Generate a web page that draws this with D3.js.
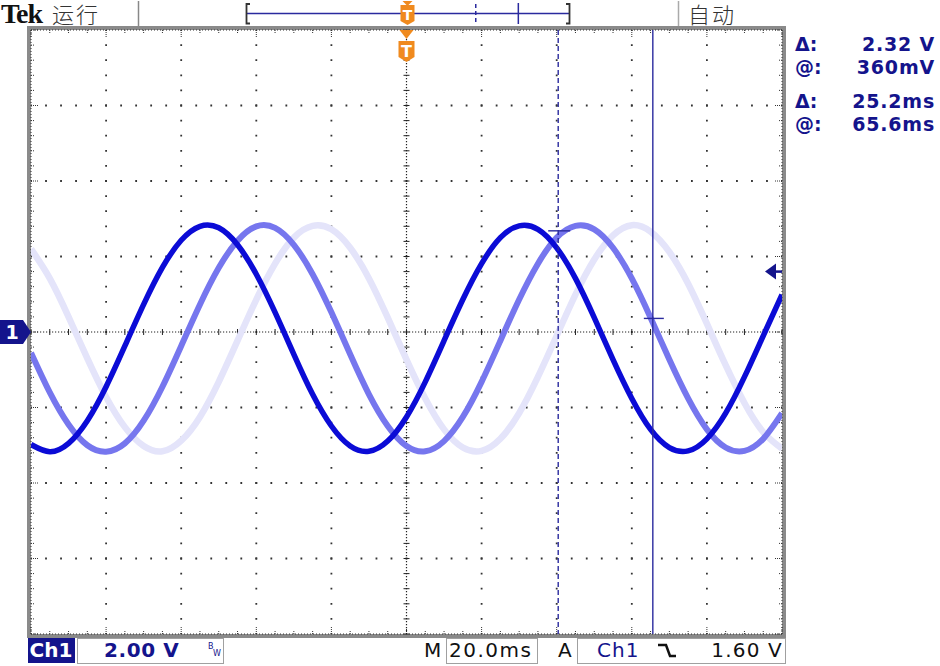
<!DOCTYPE html>
<html>
<head>
<meta charset="utf-8">
<script src="https://cdn.jsdelivr.net/npm/d3@7"></script>
<style>
  body { margin: 0; background: #fff; }
  svg { display: block; font-family: "DejaVu Sans", Verdana, sans-serif; }
</style>
</head>
<body>
<svg id="scope" width="940" height="666"></svg>
<script>
// -- sample times (ms) and traces (V) -- //
const sampleTimes = [-100, -95, -90, -85, -80, -75, -70, -65, -60, -55, -50, -45, -40, -35, -30, -25, -20, -15, -10, -5,
  0, 5, 10, 15, 20, 25, 30, 35, 40, 45, 50, 55, 60, 65, 70, 75, 80, 85, 90, 95, 100];

const ch1Volts = [-2.98, -3.17, -2.95, -2.35, -1.45, -0.37, 0.73, 1.71, 2.43, 2.80, 2.76, 2.31, 1.53, 0.52, -0.59, -1.65,
  -2.49, -3.02, -3.16, -2.89, -2.25, -1.32, -0.23, 0.86, 1.81, 2.50, 2.81, 2.72, 2.23, 1.42, 0.38, -0.73, -1.76, -2.58,
  -3.06, -3.15, -2.83, -2.15, -1.19, -0.10, 0.99];

const ref1Volts = [-0.55, -1.60, -2.45, -3.00, -3.17, -2.95, -2.35, -1.45, -0.37, 0.73, 1.70, 2.42, 2.80, 2.76, 2.31, 1.53,
  0.52, -0.59, -1.65, -2.49, -3.02, -3.16, -2.89, -2.25, -1.32, -0.23, 0.86, 1.81, 2.50, 2.81, 2.72, 2.23, 1.42, 0.38,
  -0.73, -1.76, -2.58, -3.06, -3.15, -2.83, -2.15];

const ref2Volts = [2.20, 1.42, 0.40, -0.70, -1.72, -2.52, -3.02, -3.16, -2.88, -2.25, -1.32, -0.23, 0.86, 1.81, 2.50, 2.81,
  2.72, 2.23, 1.42, 0.38, -0.73, -1.76, -2.58, -3.06, -3.15, -2.83, -2.15, -1.19, -0.10, 0.99, 1.92, 2.56, 2.83, 2.66,
  2.12, 1.28, 0.22, -0.88, -1.88, -2.65, -3.09];

// -- cursors / trigger -- //
const cursorTimes = [40.4, 65.6];   // ms
const cursorVolts = [2.68, 0.36];   // V
const triggerLevel = 1.60;          // V

// -- readouts -- //
const readoutLabels = ["Δ:", "@:", "Δ:", "@:"];
const readoutValues = ["2.32 V", "360mV", "25.2ms", "65.6ms"];

const svg = d3.select("#scope");
const plot = { left: 31, right: 782, top: 30, bottom: 634 };
const navy = "#14148c";

const x = d3.scaleLinear().domain([-100, 100]).range([plot.left, plot.right]);
const y = d3.scaleLinear().domain([-8, 8]).range([plot.bottom, plot.top]);

const majorT = x.ticks(10), minorT = x.ticks(50);
const majorV = y.ticks(8), minorV = d3.range(-8, 8.01, 0.4);
const stepX = x(4) - x(0), stepY = y(0) - y(0.4);

// -- frame -- //
svg.append("rect")
  .attr("x", plot.left - 2).attr("y", plot.top - 2)
  .attr("width", plot.right - plot.left + 4).attr("height", plot.bottom - plot.top + 4)
  .attr("fill", "none").attr("stroke", "#8a8a8a").attr("stroke-width", 4);

let ruler = svg.append("g").attr("stroke", "#333").attr("stroke-width", 1);
[[plot.left, plot.top, plot.right, plot.top], [plot.left, plot.bottom, plot.right, plot.bottom],
 [plot.left, plot.top, plot.left, plot.bottom], [plot.right, plot.top, plot.right, plot.bottom]]
  .forEach(s => ruler.append("line").attr("x1", s[0]).attr("y1", s[1]).attr("x2", s[2]).attr("y2", s[3])
    .attr("stroke-dasharray", "1 2"));

// -- border ticks -- //
minorT.forEach(t => {
  let len = majorT.includes(t) ? 8 : 4;
  ruler.append("line").attr("x1", x(t)).attr("x2", x(t)).attr("y1", plot.top).attr("y2", plot.top + len).attr("stroke-dasharray", "1 1");
  ruler.append("line").attr("x1", x(t)).attr("x2", x(t)).attr("y1", plot.bottom).attr("y2", plot.bottom - len).attr("stroke-dasharray", "1 1");
});
minorV.forEach(v => {
  let len = majorV.includes(Math.round(v * 10) / 10) ? 8 : 4;
  ruler.append("line").attr("y1", y(v)).attr("y2", y(v)).attr("x1", plot.left).attr("x2", plot.left + len).attr("stroke-dasharray", "1 1");
  ruler.append("line").attr("y1", y(v)).attr("y2", y(v)).attr("x1", plot.right).attr("x2", plot.right - len).attr("stroke-dasharray", "1 1");
});

// -- dotted graticule -- //
let grid = svg.append("g").attr("stroke", "#333").attr("stroke-width", 1.8);
majorT.filter(t => t > -100 && t < 100 && t !== 0).forEach(t => {
  grid.append("line").attr("x1", x(t)).attr("x2", x(t)).attr("y1", plot.top).attr("y2", plot.bottom)
    .attr("stroke-dasharray", `1.8 ${stepY - 1.8}`).attr("stroke-dashoffset", 0.9);
});
majorV.filter(v => v > -8 && v < 8 && v !== 0).forEach(v => {
  grid.append("line").attr("y1", y(v)).attr("y2", y(v)).attr("x1", plot.left).attr("x2", plot.right)
    .attr("stroke-dasharray", `1.8 ${stepX - 1.8}`).attr("stroke-dashoffset", 0.9);
});

// -- centre cross -- //
let cross = svg.append("g").attr("stroke", "#222").attr("stroke-width", 1.2);
cross.append("line").attr("x1", plot.left).attr("x2", plot.right).attr("y1", y(0)).attr("y2", y(0)).attr("stroke-dasharray", "1.2 1.8");
cross.append("line").attr("y1", plot.top).attr("y2", plot.bottom).attr("x1", x(0)).attr("x2", x(0)).attr("stroke-dasharray", "1.2 1.8");
minorT.forEach(t => cross.append("line").attr("x1", x(t)).attr("x2", x(t)).attr("y1", y(0) - 3).attr("y2", y(0) + 3).attr("stroke-width", 1));
minorV.forEach(v => cross.append("line").attr("y1", y(v)).attr("y2", y(v)).attr("x1", x(0) - 3).attr("x2", x(0) + 3).attr("stroke-width", 1));

// -- traces -- //
svg.append("clipPath").attr("id", "clip").append("rect")
  .attr("x", plot.left).attr("y", plot.top).attr("width", plot.right - plot.left).attr("height", plot.bottom - plot.top);

let line = d3.line().x(d => x(d[0])).y(d => y(d[1])).curve(d3.curveNatural);
let traces = [
  { volts: ref2Volts, color: "#e4e4fa", width: 6.5 },
  { volts: ref1Volts, color: "#7676ee", width: 6 },
  { volts: ch1Volts, color: "#0b0bd6", width: 5.5 }
];
let traceLayer = svg.append("g").attr("clip-path", "url(#clip)");
traces.forEach(tr => {
  traceLayer.append("path")
    .datum(sampleTimes.map((t, i) => [t, tr.volts[i]]))
    .attr("d", line)
    .attr("fill", "none")
    .attr("stroke", tr.color)
    .attr("stroke-width", tr.width)
    .attr("stroke-linejoin", "round");
});

// -- cursors -- //
let cur = svg.append("g").attr("stroke", "#2a2a9e").attr("stroke-width", 1.4).attr("fill", "none");
cur.append("line").attr("x1", x(cursorTimes[0])).attr("x2", x(cursorTimes[0]))
  .attr("y1", plot.top).attr("y2", plot.bottom).attr("stroke-dasharray", "5 3");
cur.append("line").attr("x1", x(cursorTimes[1])).attr("x2", x(cursorTimes[1]))
  .attr("y1", plot.top).attr("y2", plot.bottom);
cur.append("line").attr("x1", x(cursorTimes[0]) - 10).attr("x2", x(cursorTimes[0]) + 12)
  .attr("y1", y(cursorVolts[0])).attr("y2", y(cursorVolts[0]));
cur.append("line").attr("x1", x(cursorTimes[1]) - 9).attr("x2", x(cursorTimes[1]) + 11)
  .attr("y1", y(cursorVolts[1])).attr("y2", y(cursorVolts[1]));

// -- trigger level arrow (right) -- //
let ty = y(triggerLevel);
svg.append("path").attr("d", `M776,${ty - 8}L765,${ty}L776,${ty + 8}Z`).attr("fill", navy);
svg.append("line").attr("x1", 774).attr("x2", plot.right).attr("y1", ty).attr("y2", ty)
  .attr("stroke", navy).attr("stroke-width", 2.5);

// -- channel 1 ground marker (left) -- //
let gy = y(0);
svg.append("path").attr("d", `M0,${gy - 12}L23,${gy - 12}L31,${gy}L23,${gy + 12}L0,${gy + 12}Z`).attr("fill", navy);
svg.append("text").attr("x", 12).attr("y", gy + 7).attr("text-anchor", "middle")
  .attr("fill", "#fff").attr("font-size", 19).attr("font-weight", "bold").text("1");

// -- orange trigger position marker under top edge -- //
let tx = x(0);
let orange = "#f08a1e";
svg.append("path").attr("d", `M${tx - 7},30L${tx + 7},30L${tx},39Z`).attr("fill", orange);
svg.append("path")
  .attr("d", `M${tx - 8},41L${tx + 8},41L${tx + 8},57L${tx},62L${tx - 8},57Z`).attr("fill", orange);
svg.append("text").attr("x", tx).attr("y", 57).attr("text-anchor", "middle").attr("fill", "#fff")
  .attr("font-size", 16).attr("font-weight", "bold").text("T");

// -- top status bar -- //
svg.append("text").attr("x", 1).attr("y", 23)
  .style("font-family", "'Liberation Serif', 'DejaVu Serif', serif")
  .attr("font-weight", "bold").attr("font-size", 28).attr("letter-spacing", -1).attr("fill", "#111").text("Tek");
svg.append("text").attr("x", 52).attr("y", 23).style("font-family", "'Noto Sans CJK SC', sans-serif")
  .attr("font-weight", 300).attr("font-size", 22).attr("letter-spacing", 2).attr("fill", "#333").text("运行");
svg.append("line").attr("x1", 138.5).attr("x2", 138.5).attr("y1", 1).attr("y2", 26).attr("stroke", "#888").attr("stroke-width", 1.5);
svg.append("line").attr("x1", 678.5).attr("x2", 678.5).attr("y1", 1).attr("y2", 26).attr("stroke", "#aaa").attr("stroke-width", 1.5);
svg.append("text").attr("x", 688).attr("y", 23).style("font-family", "'Noto Sans CJK SC', sans-serif")
  .attr("font-weight", 300).attr("font-size", 22).attr("letter-spacing", 2).attr("fill", "#333").text("自动");

// record bar
let bar = d3.scaleLinear().domain([-95, 95]).range([247, 568]);
let br = svg.append("g").attr("fill", "none");
br.append("line").attr("x1", 247).attr("x2", 569).attr("y1", 13.5).attr("y2", 13.5).attr("stroke", "#2a2a9e").attr("stroke-width", 1.5);
br.append("path").attr("d", "M250,4H246.5V23.5H250").attr("stroke", "#333").attr("stroke-width", 1.8);
br.append("path").attr("d", "M566,4H569.5V23.5H566").attr("stroke", "#333").attr("stroke-width", 1.8);
br.append("line").attr("x1", bar(cursorTimes[0])).attr("x2", bar(cursorTimes[0])).attr("y1", 4).attr("y2", 23)
  .attr("stroke", "#2a2a9e").attr("stroke-width", 1.5).attr("stroke-dasharray", "4 3");
br.append("line").attr("x1", bar(cursorTimes[1])).attr("x2", bar(cursorTimes[1])).attr("y1", 3).attr("y2", 24)
  .attr("stroke", "#2a2a9e").attr("stroke-width", 1.5);
let bx = bar(0);
svg.append("path").attr("d", `M${bx - 5},1L${bx + 5},1L${bx},6Z`).attr("fill", orange);
svg.append("path").attr("d", `M${bx - 7},5L${bx + 7},5L${bx + 7},21L${bx},25L${bx - 7},21Z`).attr("fill", orange);
svg.append("text").attr("x", bx).attr("y", 20).attr("text-anchor", "middle").attr("fill", "#fff")
  .attr("font-size", 14).attr("font-weight", "bold").text("T");

// -- readouts (right) -- //
let rows = [51, 74, 108, 131];
readoutLabels.forEach((lab, i) => {
  svg.append("text").attr("x", 795).attr("y", rows[i]).attr("fill", navy)
    .attr("font-size", 19).attr("font-weight", "bold").text(lab);
  svg.append("text").attr("x", 935).attr("y", rows[i]).attr("text-anchor", "end").attr("fill", navy)
    .attr("font-size", 19).attr("font-weight", "bold").attr("letter-spacing", 0.8).text(readoutValues[i]);
});

// -- bottom status bar -- //
let by = 657;
svg.append("rect").attr("x", 28).attr("y", 638).attr("width", 47).attr("height", 25).attr("fill", navy);
svg.append("text").attr("x", 51).attr("y", by).attr("text-anchor", "middle").attr("fill", "#fff")
  .attr("font-size", 20).attr("font-weight", "bold").text("Ch1");
svg.append("rect").attr("x", 77.5).attr("y", 638.5).attr("width", 146).attr("height", 25)
  .attr("fill", "none").attr("stroke", "#a0a0a0");
svg.append("text").attr("x", 104).attr("y", by).attr("fill", navy).attr("font-size", 20)
  .attr("font-weight", "bold").attr("letter-spacing", 0.6).text("2.00 V");
svg.append("text").attr("x", 208).attr("y", 649).attr("fill", navy).attr("font-size", 8).text("B");
svg.append("text").attr("x", 213).attr("y", 656).attr("fill", navy).attr("font-size", 8).text("W");

svg.append("text").attr("x", 424).attr("y", by).attr("fill", "#111").attr("font-size", 20).text("M");
svg.append("rect").attr("x", 446.5).attr("y", 638.5).attr("width", 91).attr("height", 25)
  .attr("fill", "none").attr("stroke", "#a0a0a0");
svg.append("text").attr("x", 449).attr("y", by).attr("fill", "#111").attr("font-size", 20)
  .attr("letter-spacing", 1.5).text("20.0ms");
svg.append("text").attr("x", 558).attr("y", by).attr("fill", "#111").attr("font-size", 20).text("A");
svg.append("rect").attr("x", 577.5).attr("y", 638.5).attr("width", 208).attr("height", 25)
  .attr("fill", "none").attr("stroke", "#a0a0a0");
svg.append("text").attr("x", 597).attr("y", by).attr("fill", navy).attr("font-size", 20)
  .attr("letter-spacing", 1).text("Ch1");
svg.append("path").attr("d", "M658,645H666L670,656H676").attr("fill", "none")
  .attr("stroke", "#111").attr("stroke-width", 2.5);
svg.append("text").attr("x", 783).attr("y", by).attr("text-anchor", "end").attr("fill", "#111")
  .attr("font-size", 20).attr("letter-spacing", 1.2).text("1.60 V");
</script>
</body>
</html>
